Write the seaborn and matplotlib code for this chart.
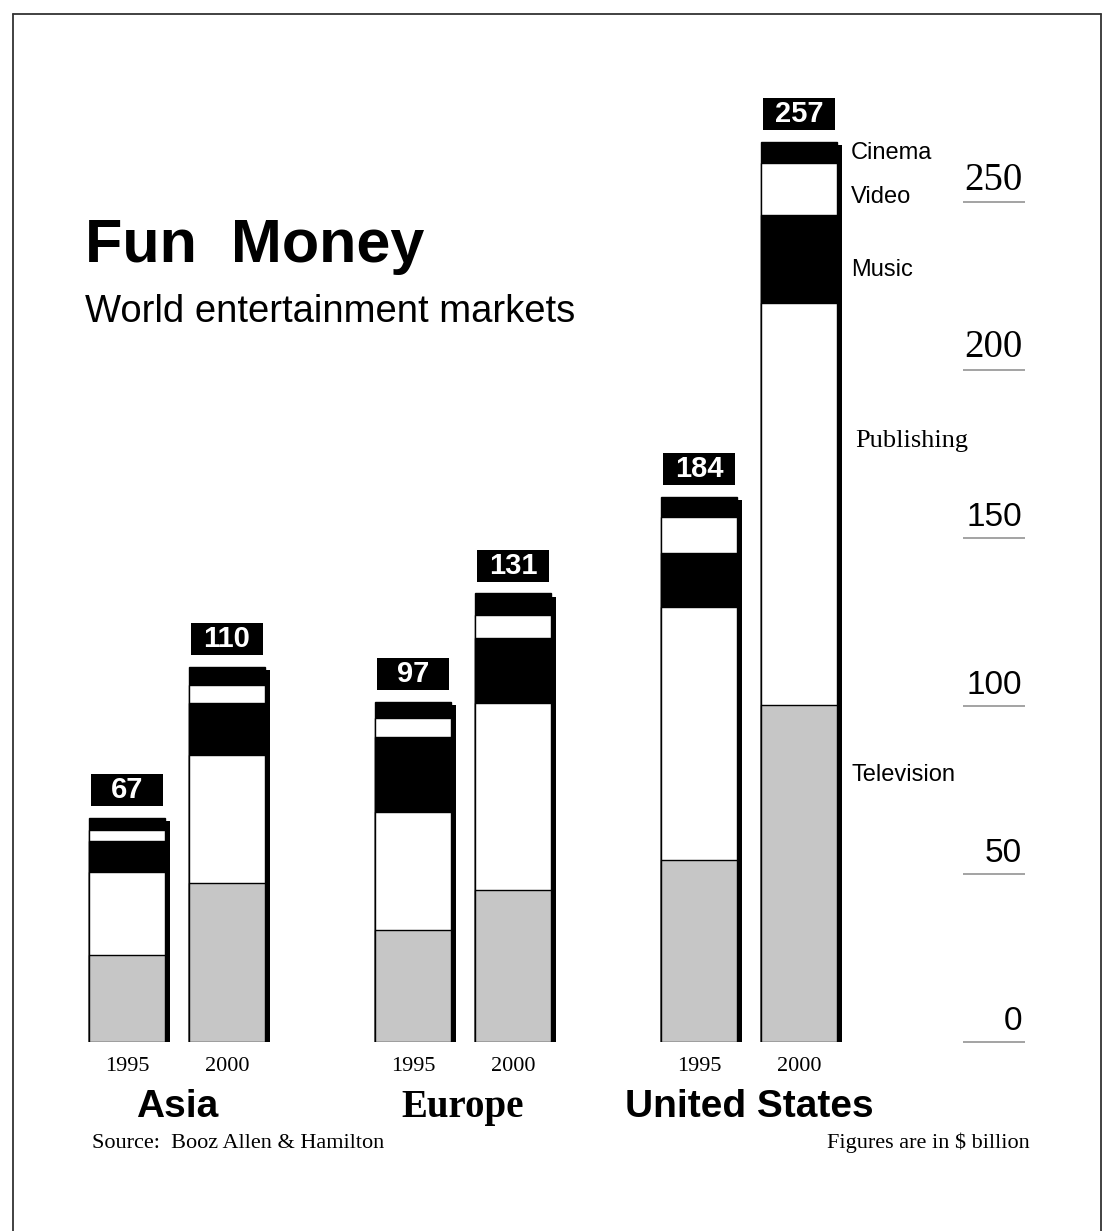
import numpy as np
import pandas as pd
import seaborn as sns
import matplotlib.pyplot as plt
import matplotlib.transforms as mtransforms
from matplotlib import patheffects
from matplotlib.patches import Rectangle
from matplotlib.lines import Line2D

# values in $ billion
regions = ['Asia', 'Europe', 'United States']
years = ['1995', '2000']
segments = ['Television', 'Publishing', 'Music', 'Video', 'Cinema']  # bottom -> top

television = [25.9, 47.3, 33.3, 45.2, 54.2, 100.3]
publishing = [24.7, 38.1, 35.1, 55.7, 75.3, 119.6]
music = [9.2, 15.5, 22.3, 19.3, 16.1, 26.2]
video = [3.3, 5.4, 5.7, 6.8, 10.7, 15.5]
cinema = [3.6, 5.4, 4.8, 6.5, 6.0, 6.3]
totals = [67, 110, 97, 131, 184, 257]

y_ticks = [0, 50, 100, 150, 200, 250]

SANS = 'Liberation Sans'
SERIF = 'Liberation Serif'

sns.set_theme(style='white')
plt.rcParams['font.family'] = [SANS, 'DejaVu Sans']
plt.rcParams['text.color'] = 'black'
plt.rcParams['xtick.color'] = 'black'
plt.rcParams['ytick.color'] = 'black'

df = pd.DataFrame({
    'region': np.repeat(regions, 2),
    'year': years * 3,
    'Television': television,
    'Publishing': publishing,
    'Music': music,
    'Video': video,
    'Cinema': cinema,
})
# two bars per region, wider gap between regions
df['pos'] = [regions.index(r) * 2.86 + years.index(y) for r, y in zip(df['region'], df['year'])]
cum = df[segments].cumsum(axis=1)
cum['pos'] = df['pos']

fills = {'Cinema': 'black', 'Video': 'white', 'Music': 'black',
         'Publishing': 'white', 'Television': '#c6c6c6'}

fig = plt.figure(figsize=(11.05, 12.31), dpi=100)
ax = fig.add_axes([60 / 1105, 189 / 1231, 965 / 1105, 1008 / 1231])

# stacked bars: draw cumulative totals from the top segment down
for i, seg in enumerate(reversed(segments)):
    n_before = len(ax.patches)
    sns.barplot(data=cum, x='pos', y=seg, native_scale=True, orient='x',
                width=0.76, color=fills[seg], saturation=1, edgecolor='black',
                linewidth=1.0, errorbar=None, ax=ax)
    if i == 0:
        for p in ax.patches[n_before:]:
            p.set_path_effects([patheffects.withSimplePatchShadow(
                offset=(3.5, -2.5), shadow_rgbFace='black', alpha=1)])

# black total boxes above each bar
for pos, top, tot in zip(cum['pos'], cum['Cinema'], totals):
    ax.add_patch(Rectangle((pos - 0.36, top + 3.5), 0.72, 9.5,
                           facecolor='black', edgecolor='none', clip_on=False))
    ax.text(pos, top + 3.5 + 4.75, str(tot), ha='center', va='center',
            color='white', fontsize=21, fontweight='bold', family=SANS)

ax.set_xlim(-0.67, 8.98)
ax.set_ylim(0, 300)
for s in ax.spines.values():
    s.set_visible(False)

# year labels as x ticks
ax.set_xticks(df['pos'])
ax.set_xticklabels(df['year'], family=SERIF, fontsize=16, color='black')
ax.tick_params(axis='x', length=0, pad=11, labelcolor='black')
ax.set_xlabel('')
ax.set_ylabel('')

# right-hand scale: short rules with the number sitting on top
ax.set_yticks(y_ticks)
ax.yaxis.tick_right()
ax.tick_params(axis='y', direction='in', length=45, width=1.1,
               color='#8a8a8a', labelright=False, labelleft=False)
lab_tr = mtransforms.offset_copy(ax.get_yaxis_transform(), fig=fig,
                                 x=-2, y=9, units='points')
for v in y_ticks:
    serif = v >= 200
    ax.text(1.0, v, str(v), transform=lab_tr, ha='right', va='baseline',
            family=SERIF if serif else SANS, fontsize=28 if serif else 24,
            color='black')

# region names under each pair
region_fonts = {'Asia': SANS, 'Europe': SERIF, 'United States': SANS}
for r in regions:
    centre = df.loc[df['region'] == r, 'pos'].mean()
    ax.text(centre, -22.3, r, ha='center', va='baseline', fontsize=28,
            fontweight='bold', family=region_fonts[r], clip_on=False, color='black')

# segment names beside the tallest bar
seg_labels = ['Cinema', 'Video', 'Music', 'Publishing', 'Television']
seg_label_y = [264.6, 251.5, 229.8, 179, 79.5]
for name, yv in zip(seg_labels, seg_label_y):
    if name == 'Publishing':
        ax.text(7.28, yv, name, va='center', ha='left', fontsize=19,
                family=SERIF, color='black')
    else:
        ax.text(7.24, yv, name, va='center', ha='left', fontsize=17,
                family=SANS, color='black')

fig.text(85 / 1105, 1 - 262 / 1231, 'Fun  Money', fontsize=44, fontweight='bold',
         family=SANS, va='baseline', color='black')
fig.text(85 / 1105, 1 - 322 / 1231, 'World entertainment markets', fontsize=27.5,
         family=SANS, va='baseline', color='black')
fig.text(92 / 1105, 1 - 1148 / 1231, 'Source:  Booz Allen & Hamilton', fontsize=16,
         family=SERIF, va='baseline', color='black')
fig.text(1030 / 1105, 1 - 1148 / 1231, 'Figures are in $ billion', fontsize=16,
         family=SERIF, va='baseline', ha='right', color='black')

# frame around the graphic
fx0, fx1, fy1 = 13 / 1105, 1101 / 1105, 1 - 14 / 1231
for xs, ys in [([fx0, fx0], [0, fy1]), ([fx0, fx1], [fy1, fy1]), ([fx1, fx1], [0, fy1])]:
    fig.add_artist(Line2D(xs, ys, transform=fig.transFigure, color='#333333', lw=1.3))

fig.savefig('out.png', dpi=100)
